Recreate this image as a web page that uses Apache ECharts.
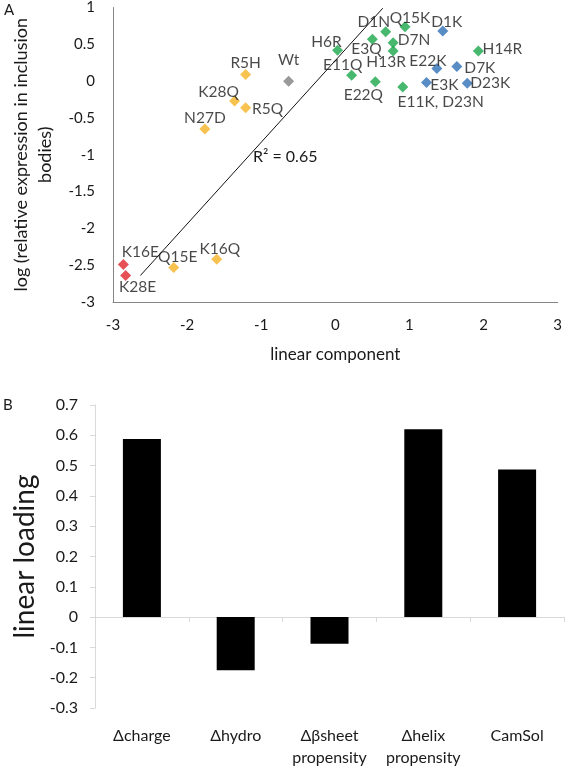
<!DOCTYPE html>
<html>
<head>
<meta charset="utf-8">
<script src="https://cdn.jsdelivr.net/npm/echarts@6/dist/echarts.min.js"></script>
<style>
html,body{margin:0;padding:0;background:#fff;}
#c{width:565px;height:769px;}
</style>
</head>
<body>
<div id="c"></div>
<script>
// ---------- Panel A data ----------
var redNames = ['K16E', 'K28E'];
var redX = [-2.86, -2.83];
var redY = [-2.49, -2.64];

var orangeNames = ['Q15E', 'K16Q', 'N27D', 'K28Q', 'R5Q', 'R5H'];
var orangeX = [-2.18, -1.60, -1.76, -1.36, -1.21, -1.21];
var orangeY = [-2.53, -2.42, -0.65, -0.27, -0.36, 0.09];

var greyNames = ['Wt'];
var greyX = [-0.63];
var greyY = [0.0];

var greenNames = ['H6R', 'E3Q', 'D1N', 'Q15K', 'D7N', 'H13R', 'E11Q', 'E22Q', 'E11K, D23N', 'H14R'];
var greenX = [0.03, 0.50, 0.68, 0.94, 0.78, 0.78, 0.22, 0.54, 0.91, 1.93];
var greenY = [0.42, 0.57, 0.67, 0.74, 0.52, 0.41, 0.08, -0.01, -0.08, 0.41];

var blueNames = ['D1K', 'E22K', 'D7K', 'E3K', 'D23K'];
var blueX = [1.45, 1.37, 1.64, 1.23, 1.78];
var blueY = [0.68, 0.17, 0.20, -0.02, -0.03];

var trendX = [-2.63, 0.64];
var trendY = [-2.64, 0.99];
var r2Text = 'R\u00b2 = 0.65';

var xTicksA = [-3, 3, 1];
var yTicksA = [-3, 1, 0.5];

// ---------- Panel B data ----------
var loadCats = ['\u0394charge', '\u0394hydro', '\u0394\u03b2sheet\npropensity', '\u0394helix\npropensity', 'CamSol'];
var loadVals = [0.588, -0.175, -0.088, 0.620, 0.487];
var yTicksB = [-0.3, 0.7, 0.1];

// ---------- label layout (offsets of label centre from the marker, px) ----------
var labelOffset = {
  'K16E': [17, -12], 'K28E': [12, 12],
  'Q15E': [4, -10], 'K16Q': [3, -10], 'N27D': [0, -11], 'K28Q': [-16, -9], 'R5Q': [22, 1], 'R5H': [0, -11],
  'Wt': [0, -21],
  'H6R': [-11, -8], 'E3Q': [-6, 10], 'D1N': [-12, -10], 'Q15K': [5, -9], 'D7N': [21, -3], 'H13R': [-7, 11],
  'E11Q': [-9, -10], 'E22Q': [-12, 13], 'E11K, D23N': [38, 15], 'H14R': [24, -2],
  'D1K': [4, -9], 'E22K': [-9, -8], 'D7K': [23, 2], 'E3K': [18, 2], 'D23K': [23, 0]
};

var FONT = 'Lato';
var INK = '#1a1a1a';

function pts(names, xs, ys) {
  return names.map(function (n, i) {
    return {
      name: n,
      value: [xs[i], ys[i]],
      label: { offset: labelOffset[n] || [0, -12] }
    };
  });
}

function scatter(names, xs, ys, color) {
  return {
    type: 'scatter',
    xAxisIndex: 0, yAxisIndex: 0,
    symbol: 'diamond',
    symbolSize: [11, 11],
    itemStyle: { color: color },
    data: pts(names, xs, ys),
    label: {
      show: true,
      position: 'inside',
      formatter: '{b}',
      color: INK,
      fontFamily: FONT,
      fontSize: 15.5
    },
    z: 3
  };
}

var chart = echarts.init(document.getElementById('c'), null, { renderer: 'canvas' });

var option = {
  animation: false,
  backgroundColor: '#fff',
  textStyle: { fontFamily: FONT },
  grid: [
    { left: 113, right: 7, top: 7, bottom: 467, containLabel: false },
    { left: 95, right: 1, top: 405, bottom: 56, containLabel: false }
  ],
  xAxis: [
    {
      gridIndex: 0, type: 'value',
      min: xTicksA[0], max: xTicksA[1], interval: xTicksA[2],
      name: 'linear component', nameLocation: 'middle', nameGap: 44,
      nameTextStyle: { fontFamily: FONT, fontSize: 17, color: INK },
      axisLine: { show: true, onZero: false, lineStyle: { color: '#868686', width: 1 } },
      axisTick: { show: false },
      splitLine: { show: false },
      axisLabel: { fontFamily: FONT, fontSize: 15, color: INK, margin: 16 }
    },
    {
      gridIndex: 1, type: 'category', data: loadCats,
      axisLine: { show: false, onZero: false },
      axisTick: { show: false },
      splitLine: { show: false },
      axisLabel: { fontFamily: FONT, fontSize: 16, color: INK, margin: 17, lineHeight: 22, interval: 0 }
    },
    {
      gridIndex: 1, type: 'category', data: loadCats, position: 'bottom',
      axisLine: { show: true, onZero: true, lineStyle: { color: '#d9d9d9', width: 1 } },
      axisTick: { show: true, length: 5, lineStyle: { color: '#d9d9d9' } },
      axisLabel: { show: false },
      splitLine: { show: false }
    }
  ],
  yAxis: [
    {
      gridIndex: 0, type: 'value',
      min: yTicksA[0], max: yTicksA[1], interval: yTicksA[2],
      name: 'log (relative expression in inclusion\nbodies)', nameLocation: 'middle', nameGap: 52,
      nameTextStyle: { fontFamily: FONT, fontSize: 18, color: INK, lineHeight: 24, align: 'center' },
      axisLine: { show: true, onZero: false, lineStyle: { color: '#868686', width: 1 } },
      axisTick: { show: false },
      splitLine: { show: false },
      axisLabel: { fontFamily: FONT, fontSize: 15, color: INK, margin: 18 }
    },
    {
      gridIndex: 1, type: 'value',
      min: yTicksB[0], max: yTicksB[1], interval: yTicksB[2],
      name: 'linear loading', nameLocation: 'middle', nameGap: 55,
      nameTextStyle: { fontFamily: FONT, fontSize: 28, color: INK },
      axisLine: { show: true, onZero: false, lineStyle: { color: '#d9d9d9', width: 1 } },
      axisTick: { show: true, length: 5, lineStyle: { color: '#d9d9d9' } },
      splitLine: { show: false },
      axisLabel: {
        fontFamily: FONT, fontSize: 16, color: INK, margin: 17,
        formatter: function (v) { return String(Math.round(v * 10) / 10); }
      }
    }
  ],
  series: [
    {
      type: 'line', xAxisIndex: 0, yAxisIndex: 0,
      data: trendX.map(function (x, i) { return [x, trendY[i]]; }),
      symbol: 'none',
      lineStyle: { color: '#111', width: 1 },
      silent: true, z: 2
    },
    scatter(redNames, redX, redY, '#e0262b'),
    scatter(orangeNames, orangeX, orangeY, '#f5b324'),
    scatter(greyNames, greyX, greyY, '#7f7f7f'),
    scatter(greenNames, greenX, greenY, '#1aa64a'),
    scatter(blueNames, blueX, blueY, '#2e6fb7'),
    {
      type: 'bar', xAxisIndex: 1, yAxisIndex: 1,
      data: loadVals,
      barWidth: 38,
      itemStyle: { color: '#000' }
    }
  ],
  graphic: [
    { type: 'text', left: 4, top: 3, style: { text: 'A', fontFamily: FONT, fontSize: 15, fill: INK } },
    { type: 'text', left: 3, top: 398, style: { text: 'B', fontFamily: FONT, fontSize: 15, fill: INK } },
    { type: 'text', left: 253, top: 149, style: { text: r2Text, fontFamily: FONT, fontSize: 16, fill: INK } }
  ]
};

chart.setOption(option);
</script>
</body>
</html>
